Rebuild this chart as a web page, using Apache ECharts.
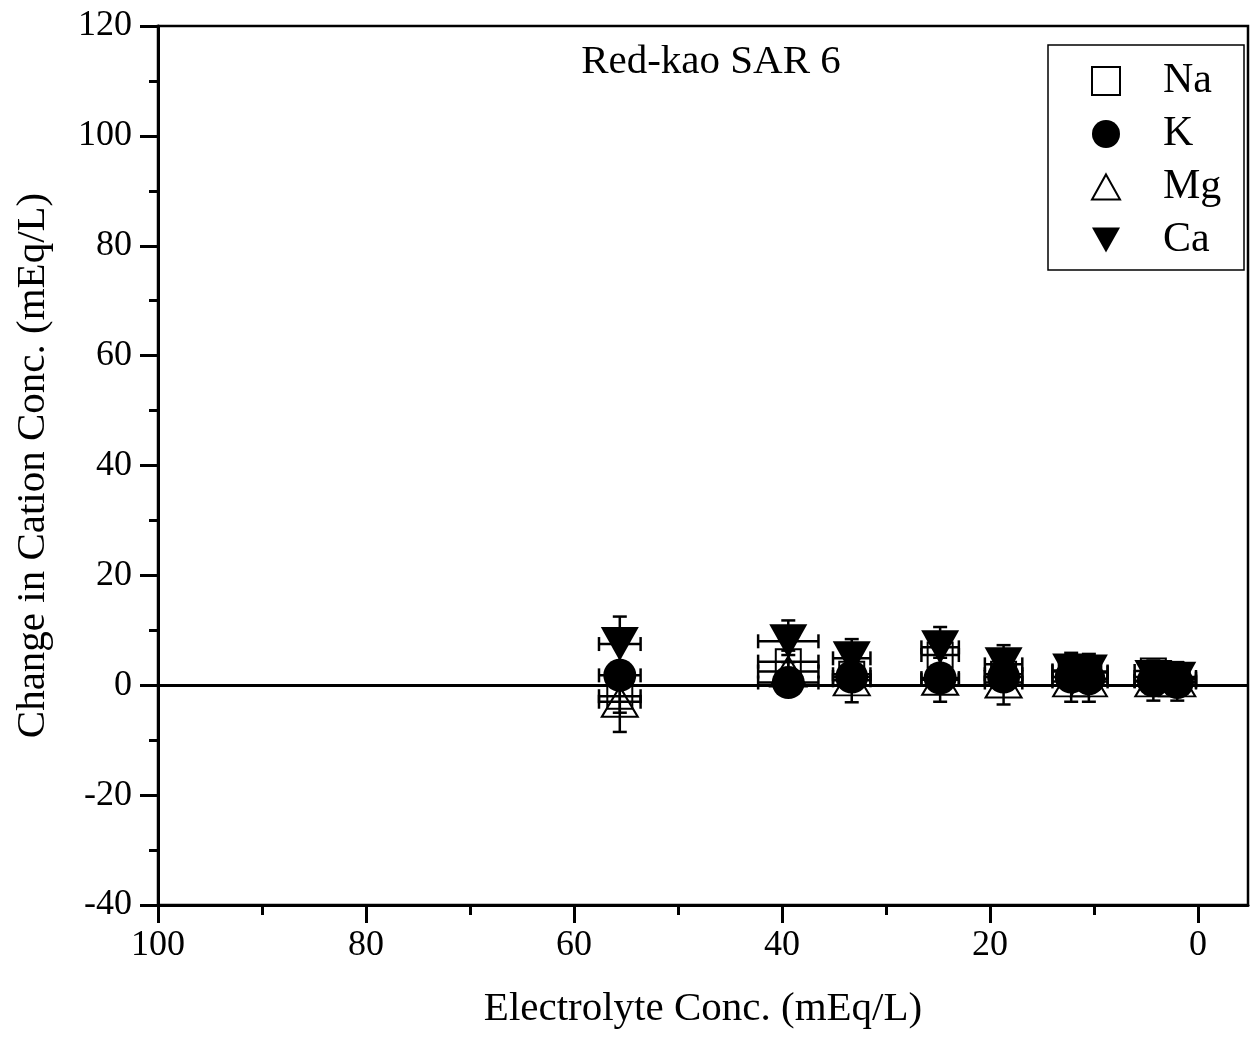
<!DOCTYPE html>
<html>
<head>
<meta charset="utf-8">
<script src="https://cdn.jsdelivr.net/npm/echarts@6/dist/echarts.min.js"></script>
<style>
  html, body { margin: 0; padding: 0; background: #fff; }
  #chart { width: 1251px; height: 1039px; }
</style>
</head>
<body>
<div id="chart"></div>
<script>
// Electrolyte concentration of each sample (mEq/L) and its uncertainty
const electrolyteConc = [55.6, 39.4, 33.3, 24.8, 18.7, 12.2, 10.5, 4.3, 2.0];
const concErr = [2.0, 2.9, 1.8, 1.8, 1.8, 1.8, 1.8, 1.8, 1.8];

// Change in cation concentration (mEq/L) with error estimates
const naChange = [-2.0, 4.3, 2.0, 5.5, 2.0, 2.5, 2.3, 2.6, 1.5];
const naErr = [3.0, 2.0, 2.0, 2.0, 2.0, 2.0, 2.0, 1.5, 1.5];
const kChange = [1.8, 0.5, 1.5, 1.3, 1.5, 1.5, 1.2, 0.8, 0.5];
const kErr = [2.0, 2.0, 2.0, 2.0, 2.0, 2.0, 2.0, 2.0, 2.0];
const mgChange = [-3.0, 2.5, 0.9, 1.0, 0.5, 0.7, 0.7, 0.7, 0.7];
const mgErr = [5.5, 3.0, 4.0, 4.0, 4.0, 3.7, 3.7, 3.5, 3.5];
const caChange = [7.5, 8.0, 4.9, 6.9, 3.8, 2.7, 2.5, 1.5, 1.2];
const caErr = [5.0, 3.8, 3.5, 3.7, 3.5, 3.2, 3.2, 3.0, 3.0];

// Axis ticks
const xTicks = [0, 20, 40, 60, 80, 100];
const xMinorTicks = [10, 30, 50, 70, 90];

const FONT = "'Liberation Serif', 'Times New Roman', Times, serif";
const SQUARE = 'path://M0,0 L10,0 L10,10 L0,10 Z';
const DOWN_TRIANGLE = 'path://M0,0 L20,0 L10,18 Z';
const UP_TRIANGLE = 'path://M10,0 L20,18 L0,18 Z';

function errorBars(ys, yErrs) {
  const data = electrolyteConc.map((x, i) => [x, ys[i], concErr[i], yErrs[i]]);
  return {
    type: 'custom',
    xAxisIndex: 0,
    yAxisIndex: 0,
    z: 1,
    silent: true,
    encode: { x: 0, y: 1 },
    data: data,
    renderItem: function (params, api) {
      const x = api.value(0), y = api.value(1), dx = api.value(2), dy = api.value(3);
      const c = api.coord([x, y]);
      const top = api.coord([x, y + dy])[1];
      const bot = api.coord([x, y - dy])[1];
      const a = api.coord([x + dx, y])[0];
      const b = api.coord([x - dx, y])[0];
      const cap = 7;
      const style = { stroke: '#000', lineWidth: 2.5, fill: null };
      const ln = (x1, y1, x2, y2) => ({ type: 'line', shape: { x1, y1, x2, y2 }, style });
      return {
        type: 'group',
        children: [
          ln(c[0], top, c[0], bot),
          ln(c[0] - cap, top, c[0] + cap, top),
          ln(c[0] - cap, bot, c[0] + cap, bot),
          ln(a, c[1], b, c[1]),
          ln(a, c[1] - cap, a, c[1] + cap),
          ln(b, c[1] - cap, b, c[1] + cap)
        ]
      };
    }
  };
}

function points(name, ys, symbol, size, hollow) {
  return {
    name: name,
    type: 'scatter',
    xAxisIndex: 0,
    yAxisIndex: 0,
    z: 3,
    symbol: symbol,
    symbolSize: size,
    itemStyle: hollow
      ? { color: 'rgba(0,0,0,0)', borderColor: '#000', borderWidth: 2, opacity: 1 }
      : { color: '#000', borderColor: '#000', borderWidth: 0, opacity: 1 },
    emphasis: { disabled: true },
    data: electrolyteConc.map((x, i) => [x, ys[i]])
  };
}

const chart = echarts.init(document.getElementById('chart'), null, { renderer: 'canvas' });

const xCommon = {
  type: 'value',
  min: -4.8,
  max: 100,
  inverse: true,
  position: 'bottom',
  splitLine: { show: false }
};

chart.setOption({
  animation: false,
  backgroundColor: '#fff',
  grid: {
    left: 158, right: 3, top: 26, bottom: 134,
    show: true, borderColor: '#000', borderWidth: 2.5, backgroundColor: 'transparent'
  },
  graphic: [{
    type: 'text',
    x: 711, y: 62,
    style: {
      text: 'Red-kao SAR 6',
      font: '41px ' + FONT,
      fill: '#000',
      textAlign: 'center',
      textVerticalAlign: 'middle'
    }
  }],
  legend: {
    orient: 'vertical',
    left: 1048,
    top: 45,
    padding: [15, 21, 9, 43],
    itemWidth: 28,
    itemHeight: 28,
    itemGap: 11,
    symbolKeepAspect: true,
    borderColor: '#000',
    borderWidth: 1.5,
    selectedMode: false,
    textStyle: { fontFamily: FONT, fontSize: 42, color: '#000', width: 60, lineHeight: 42, padding: [0, 0, 0, 38] },
    data: ['Na', 'K', 'Mg', 'Ca']
  },
  xAxis: [
    Object.assign({}, xCommon, {
      name: 'Electrolyte Conc. (mEq/L)',
      nameLocation: 'middle',
      nameGap: 84,
      nameTextStyle: { fontFamily: FONT, fontSize: 41, color: '#000' },
      axisLine: { show: true, onZero: false, lineStyle: { color: '#000', width: 3 } },
      axisTick: { show: true, inside: false, length: 18, customValues: xTicks, lineStyle: { color: '#000', width: 3 } },
      axisLabel: { show: true, margin: 23, customValues: xTicks, fontFamily: FONT, fontSize: 36, color: '#000' }
    }),
    Object.assign({}, xCommon, {
      axisLine: { show: false, onZero: false },
      axisTick: { show: true, inside: false, length: 10, customValues: xMinorTicks, lineStyle: { color: '#000', width: 3 } },
      axisLabel: { show: false }
    })
  ],
  yAxis: {
    type: 'value',
    min: -40,
    max: 120,
    interval: 20,
    name: 'Change in Cation Conc. (mEq/L)',
    nameLocation: 'middle',
    nameGap: 104,
    nameTextStyle: { fontFamily: FONT, fontSize: 41, color: '#000' },
    axisLine: { show: true, onZero: false, lineStyle: { color: '#000', width: 3 } },
    axisTick: { show: true, inside: false, length: 18, lineStyle: { color: '#000', width: 3 } },
    minorTick: { show: true, splitNumber: 2, length: 9, lineStyle: { color: '#000', width: 3 } },
    axisLabel: { margin: 26, fontFamily: FONT, fontSize: 36, color: '#000' },
    splitLine: { show: false }
  },
  series: [
    errorBars(naChange, naErr),
    errorBars(kChange, kErr),
    errorBars(mgChange, mgErr),
    errorBars(caChange, caErr),
    Object.assign(points('Na', naChange, SQUARE, 25, true), {
      markLine: {
        silent: true,
        symbol: 'none',
        label: { show: false },
        lineStyle: { color: '#000', width: 3, type: 'solid' },
        data: [{ yAxis: 0 }]
      }
    }),
    points('K', kChange, 'circle', 33, false),
    points('Mg', mgChange, UP_TRIANGLE, [36, 30], true),
    points('Ca', caChange, DOWN_TRIANGLE, [38, 34], false)
  ]
});
</script>
</body>
</html>
